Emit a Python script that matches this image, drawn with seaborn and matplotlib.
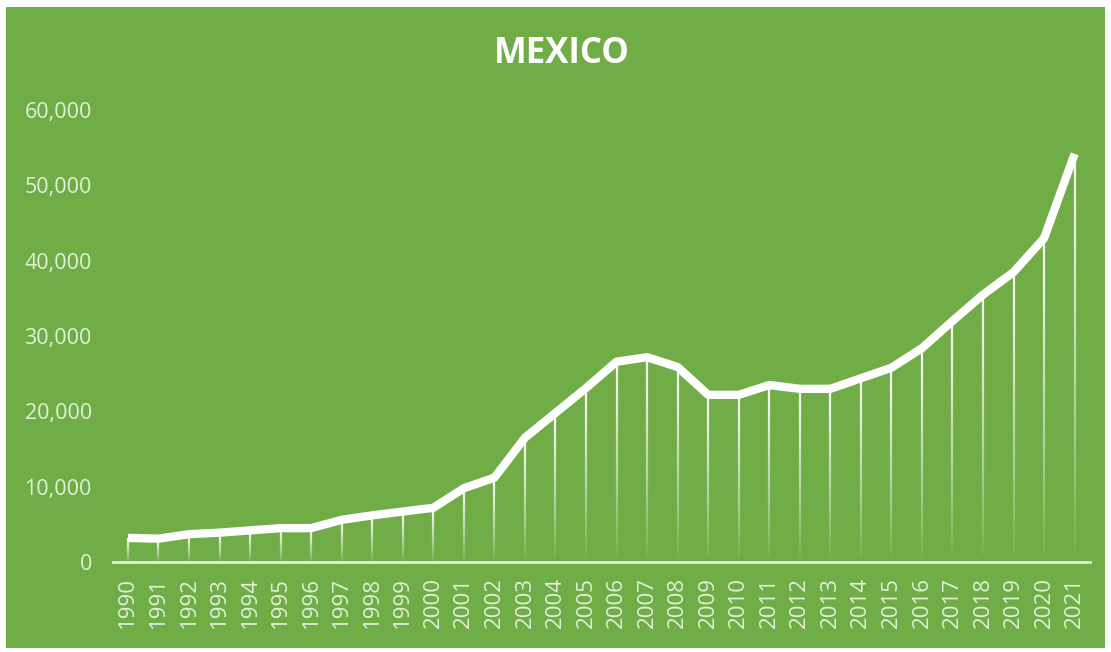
import numpy as np
import pandas as pd
import matplotlib
matplotlib.use("Agg")
import matplotlib.pyplot as plt
import seaborn as sns
from matplotlib.collections import LineCollection
from matplotlib.patches import Rectangle
from matplotlib.ticker import FuncFormatter

# data
years = [str(y) for y in range(1990, 2022)]
values = [3200, 3100, 3700, 3900, 4200, 4500, 4500, 5600, 6200, 6700, 7200,
          9800, 11200, 16500, 19800, 23100, 26600, 27200, 25900, 22200, 22200,
          23500, 23000, 23000, 24400, 25800, 28400, 32000, 35500, 38500, 43000,
          54200]
title = "MEXICO"

df = pd.DataFrame({"year": years, "value": values})

green = "#70AD47"
pale = "#E2F0D9"

sns.set_theme(style="white")
plt.rcParams["font.family"] = ["Open Sans", "DejaVu Sans"]

fig = plt.figure(figsize=(11.11, 6.52), dpi=100, facecolor="white")
fig.patches.append(Rectangle((6 / 1111, 4 / 652), 1099 / 1111, 641 / 652,
                             transform=fig.transFigure, facecolor=green,
                             edgecolor="none", zorder=-10))
ax = fig.add_axes([0.1014, 0.138, 0.8796, 0.693])
ax.set_facecolor("none")

x = np.arange(len(years))

# drop lines that fade out toward the axis
n = 40
for xi, v in zip(x, values):
    ys = np.linspace(0, v, n + 1)
    segs = [[(xi, ys[k]), (xi, ys[k + 1])] for k in range(n)]
    alphas = np.linspace(0.0, 0.95, n) ** 0.8
    cols = [(1, 1, 1, a) for a in alphas]
    ax.add_collection(LineCollection(segs, colors=cols, linewidths=1.6, zorder=2))

sns.lineplot(data=df, x="year", y="value", ax=ax, color="white", linewidth=6,
             sort=False, zorder=3, solid_capstyle="butt", solid_joinstyle="round")

ax.set_xlim(-0.5, len(years) - 0.5)
ax.set_ylim(0, 60000)
ax.set_yticks(range(0, 60001, 10000))
ax.yaxis.set_major_formatter(FuncFormatter(lambda v, p: f"{int(v):,}"))
ax.set_xlabel("")
ax.set_ylabel("")

for s in ["top", "right", "left"]:
    ax.spines[s].set_visible(False)
ax.spines["bottom"].set_color(pale)
ax.spines["bottom"].set_linewidth(2)
ax.spines["bottom"].set_zorder(4)

ax.tick_params(axis="y", length=0, pad=15, labelsize=15.5, labelcolor=pale)
ax.tick_params(axis="x", length=0, pad=11, labelsize=16, labelcolor=pale,
               labelrotation=90)
ax.grid(False)

fig.text(0.506, 0.917, title, ha="center", va="center", color="white",
         fontsize=25, fontweight="bold")

fig.savefig("out.png", dpi=100, facecolor="white")
